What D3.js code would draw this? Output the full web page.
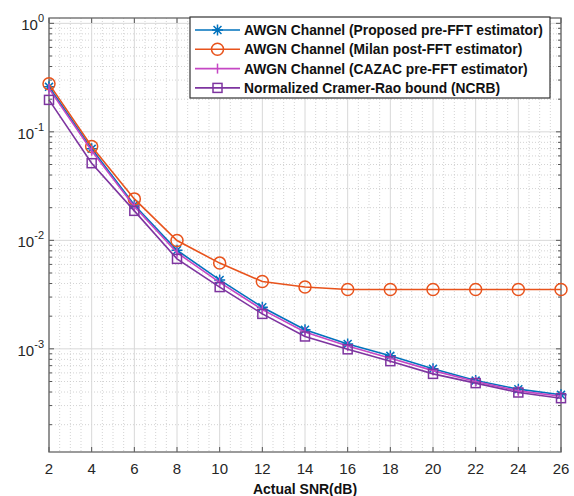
<html>
<script src="https://d3js.org/d3.v7.min.js"></script>
<style>
    body { margin: 0; background: #fff; }
    svg { font-family: "Liberation Sans", Arial, sans-serif; }
    .grid-major { stroke: #d8d8d8; stroke-width: 1px; }
    .grid-minor { stroke: #c8c8c8; stroke-width: 0.8px; stroke-dasharray: 1,2; }
    .tick-line { stroke: #555; stroke-width: 1px; }
    .tick-label { font-size: 15px; fill: #262626; }
    .series { fill: none; stroke-width: 1.6px; }
    .legend text { font-size: 13.8px; font-weight: bold; fill: #111; }
</style>
<svg width=574 height=496></svg>
<script>

    // data
    let snr = [2, 4, 6, 8, 10, 12, 14, 16, 18, 20, 22, 24, 26];
    let proposed = [0.26, 0.0697, 0.0212, 0.0081, 0.00432, 0.00242, 0.0015, 0.00111, 0.000862, 0.000654, 0.00051, 0.000425, 0.000377];
    let milan = [0.277, 0.0733, 0.0241, 0.00995, 0.00617, 0.00417, 0.00371, 0.00352, 0.00352, 0.00352, 0.00352, 0.00352, 0.00352];
    let cazac = [0.25, 0.067, 0.0205, 0.0077, 0.0041, 0.0023, 0.00143, 0.00106, 0.00082, 0.00063, 0.0005, 0.00041, 0.000365];
    let ncrb = [0.197, 0.0514, 0.0187, 0.00675, 0.00371, 0.0021, 0.0013, 0.00099, 0.00077, 0.000588, 0.000483, 0.000396, 0.000351];
    let xTicks = [2, 4, 6, 8, 10, 12, 14, 16, 18, 20, 22, 24, 26];
    let yDecades = [-4, -3, -2, -1, 0];
    let seriesNames = ['AWGN Channel (Proposed pre-FFT estimator)', 'AWGN Channel (Milan post-FFT estimator)',
        'AWGN Channel (CAZAC pre-FFT estimator)', 'Normalized Cramer-Rao bound (NCRB)'];

    let svg = d3.select('svg'),
        margin = { top: 18, right: 13, bottom: 44, left: 49 },
        width = +svg.attr('width') - margin.left - margin.right,
        height = +svg.attr('height') - margin.top - margin.bottom,
        g = svg.append('g').attr('transform', 'translate(' + margin.left + ',' + margin.top + ')');

    let x = d3.scaleLinear().domain([2, 26]).range([0, width]);
    let y = d3.scaleLog().domain([1.12e-4, 1.12]).range([height, 0]);

    // grid
    let xMinor = d3.range(2, 26.01, 0.5).filter(v => v % 2 !== 0);
    g.selectAll('.gxm').data(xMinor).enter().append('line')
        .attr('class', 'grid-minor')
        .attr('x1', d => x(d)).attr('x2', d => x(d))
        .attr('y1', 0).attr('y2', height);

    let yMinor = [];
    yDecades.forEach(e => { for (let k = 2; k <= 9; k++) yMinor.push(k * Math.pow(10, e)); });
    yMinor = yMinor.filter(v => v >= y.domain()[0] && v <= y.domain()[1]);
    g.selectAll('.gym').data(yMinor).enter().append('line')
        .attr('class', 'grid-minor')
        .attr('x1', 0).attr('x2', width)
        .attr('y1', d => y(d)).attr('y2', d => y(d));

    g.selectAll('.gx').data(xTicks).enter().append('line')
        .attr('class', 'grid-major')
        .attr('x1', d => x(d)).attr('x2', d => x(d))
        .attr('y1', 0).attr('y2', height);

    let yMajor = yDecades.map(e => Math.pow(10, e)).filter(v => v >= y.domain()[0] && v <= y.domain()[1]);
    g.selectAll('.gy').data(yMajor).enter().append('line')
        .attr('class', 'grid-major')
        .attr('x1', 0).attr('x2', width)
        .attr('y1', d => y(d)).attr('y2', d => y(d));

    // ticks, inward, on all four sides
    xTicks.forEach(d => {
        g.append('line').attr('class', 'tick-line')
            .attr('x1', x(d)).attr('x2', x(d)).attr('y1', height).attr('y2', height - 5);
        g.append('line').attr('class', 'tick-line')
            .attr('x1', x(d)).attr('x2', x(d)).attr('y1', 0).attr('y2', 5);
        g.append('text').attr('class', 'tick-label')
            .attr('x', x(d)).attr('y', height + 22)
            .attr('text-anchor', 'middle')
            .text(d);
    });

    yMajor.forEach(d => {
        g.append('line').attr('class', 'tick-line')
            .attr('x1', 0).attr('x2', 5).attr('y1', y(d)).attr('y2', y(d));
        g.append('line').attr('class', 'tick-line')
            .attr('x1', width).attr('x2', width - 5).attr('y1', y(d)).attr('y2', y(d));
        let t = g.append('text').attr('class', 'tick-label')
            .attr('x', -5).attr('y', y(d) + 7)
            .attr('text-anchor', 'end');
        t.append('tspan').text('10');
        t.append('tspan').attr('dy', -8).attr('font-size', 11)
            .text(String(Math.round(Math.log10(d))));
    });

    yMinor.forEach(d => {
        g.append('line').attr('class', 'tick-line')
            .attr('x1', 0).attr('x2', 3).attr('y1', y(d)).attr('y2', y(d));
        g.append('line').attr('class', 'tick-line')
            .attr('x1', width).attr('x2', width - 3).attr('y1', y(d)).attr('y2', y(d));
    });

    // axes box
    g.append('rect')
        .attr('width', width).attr('height', height)
        .attr('fill', 'none').attr('stroke', '#666').attr('stroke-width', 1.3);

    // x label
    svg.append('text')
        .attr('x', margin.left + width / 2).attr('y', 494)
        .attr('text-anchor', 'middle')
        .attr('font-size', 14).attr('font-weight', 'bold').attr('fill', '#111')
        .text('Actual SNR(dB)');

    // markers
    let starPath = function(r) {
        let a = r * 0.72;
        return 'M0,' + (-r) + 'V' + r + 'M' + (-r) + ',0H' + r +
            'M' + (-a) + ',' + (-a) + 'L' + a + ',' + a + 'M' + (-a) + ',' + a + 'L' + a + ',' + (-a);
    };
    let markers = {
        star: g => g.append('path').attr('d', starPath(5.5)),
        circle: g => g.append('circle').attr('r', 6),
        bar: g => g.append('path').attr('d', 'M0,-5V5'),
        square: g => g.append('rect').attr('x', -4.5).attr('y', -4.5).attr('width', 9).attr('height', 9)
    };

    let series = [
        { name: seriesNames[0], values: proposed, color: '#0072BD', marker: 'star' },
        { name: seriesNames[1], values: milan, color: '#E8531C', marker: 'circle' },
        { name: seriesNames[2], values: cazac, color: '#C547C4', marker: 'bar' },
        { name: seriesNames[3], values: ncrb, color: '#7E35A0', marker: 'square' }
    ];

    let line = d3.line().x(d => x(d[0])).y(d => y(d[1]));

    series.forEach(s => {
        let pts = snr.map((v, i) => [v, s.values[i]]);
        let sg = g.append('g').attr('stroke', s.color);
        sg.append('path').attr('class', 'series').attr('d', line(pts));
        pts.forEach(p => {
            let m = sg.append('g')
                .attr('transform', 'translate(' + x(p[0]) + ',' + y(p[1]) + ')')
                .attr('fill', 'none').attr('stroke-width', 1.5);
            markers[s.marker](m);
        });
    });

    // legend
    let legend = svg.append('g').attr('class', 'legend').attr('transform', 'translate(190,17)');
    legend.append('rect')
        .attr('width', 360).attr('height', 81)
        .attr('fill', '#fff').attr('stroke', '#333').attr('stroke-width', 1.2);

    series.forEach((s, i) => {
        let ly = 13 + i * 19.3;
        let row = legend.append('g').attr('stroke', s.color);
        row.append('line').attr('x1', 5).attr('x2', 50).attr('y1', ly).attr('y2', ly)
            .attr('stroke-width', 1.6);
        let m = row.append('g').attr('transform', 'translate(27.5,' + ly + ')')
            .attr('fill', 'none').attr('stroke-width', 1.5);
        markers[s.marker](m);
        legend.append('text').attr('x', 54).attr('y', ly + 5).text(s.name);
    });

</script>
</html>
